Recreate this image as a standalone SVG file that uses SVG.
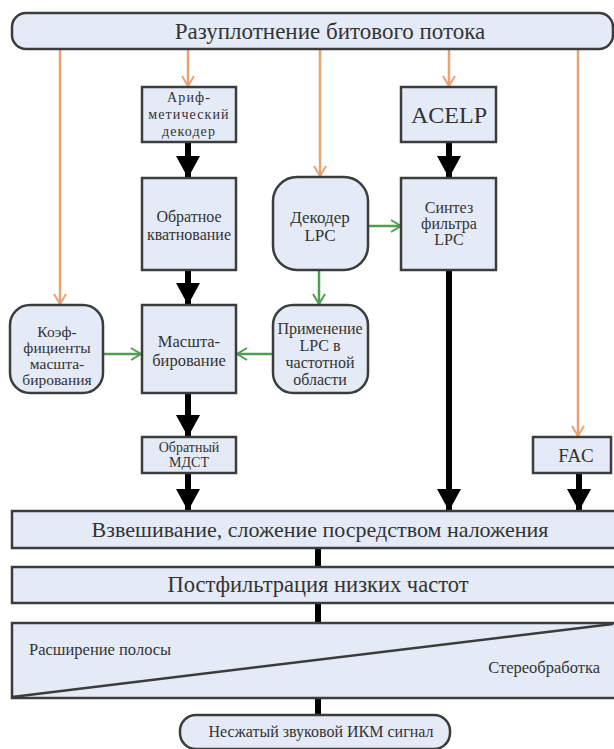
<svg xmlns="http://www.w3.org/2000/svg" width="614" height="749" viewBox="0 0 614 749">
<style>
.box{fill:#e4eaf6;stroke:#3c3c3c;stroke-width:2.5}
.t{font-family:"Liberation Serif","DejaVu Serif",serif;fill:#333;text-anchor:middle}
.or{stroke:#e9a273;stroke-width:2.5;fill:none}
.gr{stroke:#4f9e52;stroke-width:2.5;fill:none}
.bk{stroke:#000;stroke-width:6;fill:none}
</style>
<defs>
<marker id="mb" markerUnits="userSpaceOnUse" markerWidth="24" markerHeight="26" refX="22" refY="12" orient="auto"><path d="M0,0 L22,12 L0,24 z" fill="#000"/></marker>
<marker id="mo" markerUnits="userSpaceOnUse" markerWidth="14" markerHeight="16" refX="11" refY="7" orient="auto"><path d="M1,1 L11,7 L1,13" fill="none" stroke="#e9a273" stroke-width="2"/></marker>
<marker id="mg" markerUnits="userSpaceOnUse" markerWidth="14" markerHeight="16" refX="11" refY="7" orient="auto"><path d="M1,1 L11,7 L1,13" fill="none" stroke="#4f9e52" stroke-width="2"/></marker>
</defs>
<rect width="614" height="749" fill="#fff"/>
<g id="connectors">
<line class="or" x1="60" y1="50" x2="60" y2="304" marker-end="url(#mo)"/>
<line class="or" x1="188" y1="50" x2="188" y2="86" marker-end="url(#mo)"/>
<line class="or" x1="320" y1="50" x2="320" y2="176" marker-end="url(#mo)"/>
<line class="or" x1="449" y1="50" x2="449" y2="86" marker-end="url(#mo)"/>
<line class="or" x1="578" y1="50" x2="578" y2="436" marker-end="url(#mo)"/>
<line class="gr" x1="368" y1="226" x2="401" y2="226" marker-end="url(#mg)"/>
<line class="gr" x1="319" y1="271" x2="319" y2="304" marker-end="url(#mg)"/>
<line class="gr" x1="103" y1="354" x2="141" y2="354" marker-end="url(#mg)"/>
<line class="gr" x1="273" y1="354" x2="237" y2="354" marker-end="url(#mg)"/>
<line class="bk" x1="188" y1="143" x2="188" y2="178" marker-end="url(#mb)"/>
<line class="bk" x1="449" y1="143" x2="449" y2="178" marker-end="url(#mb)"/>
<line class="bk" x1="188" y1="271" x2="188" y2="305" marker-end="url(#mb)"/>
<line class="bk" x1="188" y1="394" x2="188" y2="437" marker-end="url(#mb)"/>
<line class="bk" x1="188" y1="474" x2="188" y2="511" marker-end="url(#mb)"/>
<line class="bk" x1="449" y1="271" x2="449" y2="511" marker-end="url(#mb)"/>
<line class="bk" x1="579" y1="474" x2="579" y2="511" marker-end="url(#mb)"/>
<line class="bk" x1="318" y1="549" x2="318" y2="567"/>
<line class="bk" x1="318" y1="604" x2="318" y2="623"/>
<line class="bk" x1="318" y1="699" x2="318" y2="715"/>
</g>
<g id="demux">
<rect class="box" x="12" y="13" width="601" height="36" rx="14"/>
<text class="t" x="330" y="39" font-size="23">Разуплотнение битового потока</text>
</g>
<g id="arith">
<rect class="box" x="142" y="87" width="94" height="55"/>
<text class="t" font-size="14" letter-spacing="1.1"><tspan x="189" y="102">Ариф-</tspan><tspan x="189" y="119">метический</tspan><tspan x="189" y="136">декодер</tspan></text>
</g>
<g id="acelp">
<rect class="box" x="401" y="87" width="95" height="55"/>
<text class="t" x="449" y="123" font-size="24">ACELP</text>
</g>
<g id="invquant">
<rect class="box" x="142" y="178" width="94" height="92"/>
<text class="t" font-size="16"><tspan x="189" y="222">Обратное</tspan><tspan x="189" y="240">кватнование</tspan></text>
</g>
<g id="lpcdec">
<rect class="box" x="273" y="177" width="95" height="93" rx="24"/>
<text class="t" font-size="17"><tspan x="320" y="223">Декодер</tspan><tspan x="320" y="241">LPC</tspan></text>
</g>
<g id="lpcsynth">
<rect class="box" x="401" y="178" width="95" height="92"/>
<text class="t" font-size="16"><tspan x="449" y="213">Синтез</tspan><tspan x="449" y="229">фильтра</tspan><tspan x="449" y="245">LPC</tspan></text>
</g>
<g id="scalecoef">
<rect class="box" x="10" y="305" width="93" height="88" rx="20"/>
<text class="t" font-size="15.5"><tspan x="57" y="337">Коэф-</tspan><tspan x="57" y="353">фициенты</tspan><tspan x="57" y="369">масшта-</tspan><tspan x="57" y="385">бирования</tspan></text>
</g>
<g id="scaling">
<rect class="box" x="142" y="305" width="94" height="88"/>
<text class="t" font-size="16.5"><tspan x="189" y="347">Масшта-</tspan><tspan x="189" y="366">бирование</tspan></text>
</g>
<g id="lpcapply">
<rect class="box" x="273" y="305" width="95" height="88" rx="20"/>
<text class="t" font-size="16"><tspan x="320" y="334">Применение</tspan><tspan x="320" y="351">LPC в</tspan><tspan x="320" y="368">частотной</tspan><tspan x="320" y="385">области</tspan></text>
</g>
<g id="imdct">
<rect class="box" x="142" y="437" width="94" height="36"/>
<text class="t" font-size="14"><tspan x="189" y="452">Обратный</tspan><tspan x="189" y="467">МДСТ</tspan></text>
</g>
<g id="fac">
<rect class="box" x="533" y="437" width="78" height="36"/>
<text class="t" x="576" y="462" font-size="19">FAC</text>
</g>
<g id="ola">
<rect class="box" x="12" y="511" width="612" height="37"/>
<text class="t" x="320" y="537" font-size="22">Взвешивание, сложение посредством наложения</text>
</g>
<g id="postfilt">
<rect class="box" x="12" y="567" width="612" height="36"/>
<text class="t" x="318" y="592" font-size="22.5">Постфильтрация низких частот</text>
</g>
<g id="bwe">
<rect class="box" x="12" y="623" width="612" height="75"/>
<line x1="12" y1="697" x2="613" y2="624" stroke="#3c3c3c" stroke-width="2.5"/>
<text class="t" x="29" y="655" font-size="16.5" style="text-anchor:start">Расширение полосы</text>
<text class="t" x="600" y="673" font-size="16.5" style="text-anchor:end">Стереобработка</text>
</g>
<g id="output">
<rect class="box" x="180" y="715" width="270" height="34" rx="16"/>
<text class="t" x="321" y="737" font-size="16">Несжатый звуковой ИКМ сигнал</text>
</g>
</svg>
